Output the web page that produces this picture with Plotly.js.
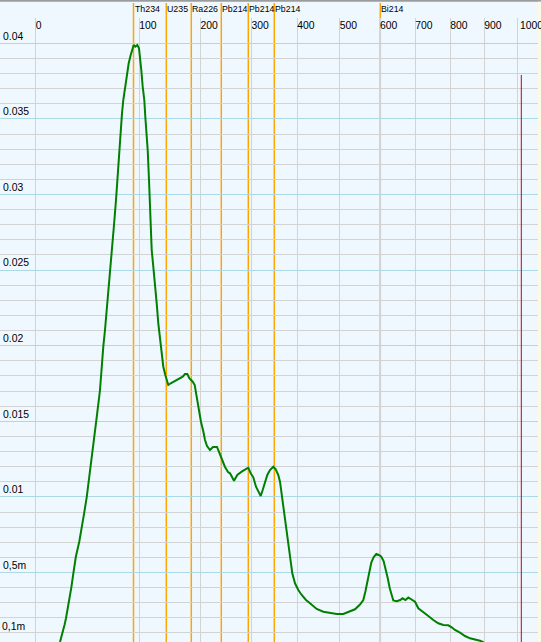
<!DOCTYPE html>
<html>
<head>
<meta charset="utf-8">
<script src="https://cdn.plot.ly/plotly-3.0.1.min.js"></script>
<style>
html,body{margin:0;padding:0;background:#f0f8ff;}
#chart{width:541px;height:642px;}
</style>
</head>
<body>
<div id="chart"></div>
<script>
// Spectrum: x in display channels, y in counts (normalised)
const channel = [60,62.7,64.5,66,68.7,71.3,73.5,75.8,79.3,82,84.3,86.7,88.7,90.7,92.3,94,97,100,101.7,103.3,105,106.7,108.3,110,112,114,116,117.7,119.3,120.7,122,123.3,125,126.7,128.7,130.7,132.3,133.7,135.3,137.3,139,140,141.3,142.7,144.3,145.3,146.7,147.7,149,150.2,151,151.7,153.3,155,156.7,158.3,160,161.7,163.3,165.3,168.3,170.7,173.3,176.7,180,182.7,185,187.3,189.3,192.7,194.7,196,197,199,201,203,205,207,210,213,217,219,222,225,228,230,234,237.3,241.7,245,248.3,250.7,253.3,256,258.3,260.7,262.7,264.7,267.3,270,273.3,275.7,278.3,280,281.7,283.3,285,286.7,288.3,290,292.3,295,298.3,301.7,306,310,316.7,323.3,330,336.7,343.3,350,355,360,363.3,365.5,367.3,369.2,371.3,373.7,376.3,378.8,381.3,383.6,385.6,387.7,389.7,391.5,393.3,396.7,400.3,402.5,405.5,408.3,411.7,415,418.3,423.3,428.3,433.3,438.3,443.3,448.3,451.7,455,460,465,470,475,480,482.7,486];
const counts = [0.000403,0.000979,0.001528,0.001971,0.002963,0.003995,0.005013,0.006025,0.007050,0.007989,0.008981,0.009974,0.010966,0.011997,0.012989,0.013763,0.015417,0.017070,0.018836,0.019934,0.021038,0.022249,0.023466,0.024788,0.026329,0.027983,0.029636,0.031290,0.032943,0.034484,0.035370,0.036250,0.037130,0.038016,0.038677,0.039226,0.039557,0.039888,0.039775,0.039888,0.039669,0.039114,0.038234,0.037130,0.036250,0.035146,0.033823,0.032943,0.030959,0.028975,0.027321,0.026329,0.025225,0.024127,0.022804,0.021481,0.020377,0.019272,0.018611,0.018062,0.017401,0.017513,0.017619,0.017731,0.017884,0.017950,0.018128,0.018128,0.017844,0.017619,0.017401,0.016852,0.016409,0.015615,0.014954,0.014425,0.013763,0.013366,0.013102,0.013300,0.013300,0.012970,0.012440,0.011978,0.011647,0.011561,0.011071,0.011448,0.011667,0.011779,0.011931,0.011561,0.011296,0.010675,0.010344,0.010060,0.010456,0.010939,0.011448,0.011779,0.011997,0.011825,0.011448,0.011005,0.010126,0.009246,0.008360,0.007593,0.006706,0.005827,0.004947,0.004286,0.003843,0.003512,0.003181,0.002963,0.002586,0.002407,0.002341,0.002255,0.002255,0.002407,0.002566,0.002884,0.003181,0.003776,0.004372,0.005033,0.005661,0.006025,0.006224,0.006157,0.006045,0.005761,0.005298,0.004636,0.003975,0.003479,0.003148,0.003095,0.003181,0.003294,0.003181,0.003347,0.003181,0.003069,0.002632,0.002407,0.002123,0.001858,0.001640,0.001528,0.001508,0.001376,0.001197,0.001019,0.000800,0.000648,0.000582,0.000489,0.000403,0.000271];

// Energy axis (keV) tick positions in display channels
const energyTickChannels = [35.7,139.3,200.5,251.5,297.3,339.7,380,415.3,450.3,484.3,517.5];
const energyTickLabels = ['0','100','200','300','400','500','600','700','800','900','1000'];

// Y ticks
const yTickVals = [0.005,0.01,0.015,0.02,0.025,0.03,0.035,0.04];
const yTickLabels = ['0,5m','0.01','0.015','0.02','0.025','0.03','0.035','0.04'];
const yExtraVals = [0.001, 0];
const yExtraLabels = ['0,1m', '0'];

// Nuclide lines
const nuclideChannels = [133.5,166.3,191.3,221.3,248.3,274.3,380.3];
const nuclideLabels = ['Th234','U235','Ra226','Pb214','Pb214','Pb214','Bi214'];

// Cursor
const cursorChannel = 521.3;
const cursorTop = 0.9087;

const W = 541, H = 642, T = 18, R = 3;
const plotH = H - T;
const tickFont = {family:'Liberation Sans, Arial, sans-serif', size:10.4, color:'#000'};
const nucFont = {family:'Liberation Sans, Arial, sans-serif', size:8.8, color:'#000'};

const shapes = [];
const annotations = [];
nuclideChannels.forEach((c, i) => {
  shapes.push({type:'line', xref:'x', yref:'paper', x0:c, x1:c, y0:0, y1:1 + 15/plotH,
    line:{color:'#ffa500', width:1.5}, layer:'between'});
  annotations.push({xref:'x', yref:'paper', x:c, y:1 + 8.5/plotH, xanchor:'left', yanchor:'middle',
    xshift:0, text:nuclideLabels[i], showarrow:false, font:nucFont, borderpad:0});
});
shapes.push({type:'line', xref:'x', yref:'paper', x0:cursorChannel, x1:cursorChannel, y0:0, y1:cursorTop,
  line:{color:'#cc0000', width:1}, layer:'above'});
// top border and right strip
shapes.push({type:'rect', xref:'paper', yref:'paper', x0:-0.01, x1:1.02, y0:1 + 16.3/plotH, y1:1 + 18.5/plotH,
  line:{width:0}, fillcolor:'#9c9c9c', layer:'above'});
yExtraVals.forEach((v, i) => {
  annotations.push({xref:'paper', yref:'y', x:0, y:v, xanchor:'left', yanchor:'bottom',
    xshift:1, text:yExtraLabels[i], showarrow:false, font:tickFont, borderpad:0});
});
// last energy label (runs past the right edge in the reference)
const lastIdx = energyTickLabels.length - 1;
annotations.push({xref:'x', yref:'paper', x:energyTickChannels[lastIdx], y:1 - 1/plotH, xanchor:'left', yanchor:'top',
  xshift:1, text:energyTickLabels[lastIdx], showarrow:false, font:tickFont, borderpad:0});
shapes.push({type:'rect', xref:'paper', yref:'paper', x0:1, x1:1 + 4/538, y0:-0.01, y1:1 + 16.3/plotH,
  line:{width:0}, fillcolor:'#fdf9e6', layer:'above'});

const trace = {x:channel, y:counts, type:'scatter', mode:'lines',
  line:{color:'#008000', width:2}, hoverinfo:'skip'};

const layout = {
  width:W, height:H,
  margin:{l:0, r:R, t:T, b:0, pad:0},
  paper_bgcolor:'#f0f8ff', plot_bgcolor:'#f0f8ff',
  showlegend:false,
  xaxis:{range:[0,538], side:'top', tickmode:'array', tickvals:energyTickChannels, ticktext:energyTickLabels,
    showgrid:true, gridcolor:'#d3d3d3', gridwidth:1, zeroline:false, showline:false, ticks:'',
    ticklabelposition:'inside right', ticklabelstandoff:-2, tickfont:tickFont, fixedrange:true},
  yaxis:{range:[0.000403,0.041673], tickmode:'array', tickvals:yTickVals, ticktext:yTickLabels,
    showgrid:true, gridcolor:'#add8e6', gridwidth:1, zeroline:false, showline:false, ticks:'',
    ticklabelposition:'inside top', tickfont:tickFont, fixedrange:true,
    minor:{tickmode:'linear', tick0:0, dtick:0.001, showgrid:true, gridcolor:'#d3d3d3', gridwidth:1, ticks:''}},
  shapes:shapes,
  annotations:annotations
};

Plotly.newPlot('chart', [trace], layout, {staticPlot:true, displayModeBar:false});
</script>
</body>
</html>
